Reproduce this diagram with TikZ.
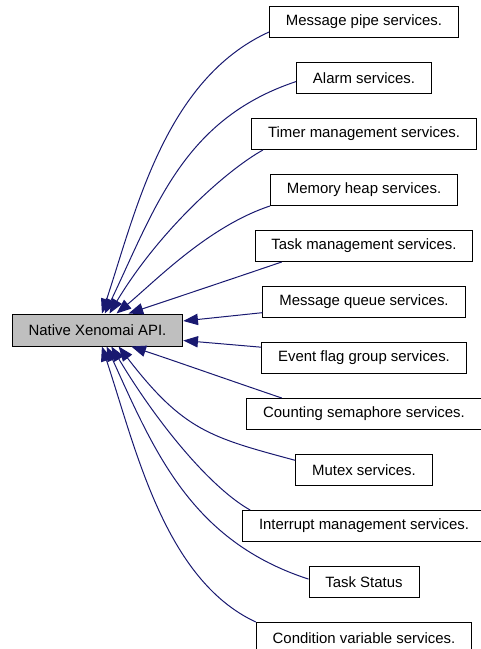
\documentclass[tikz,border=0pt]{standalone}
\usepackage{fontspec}
\setmainfont{Liberation Sans}
\usepackage{xcolor}
\usepackage{tikz}
\usetikzlibrary{arrows.meta}
\definecolor{edgeblue}{HTML}{191970}
\definecolor{apigray}{HTML}{BFBFBF}

\begin{document}
\begin{tikzpicture}[x=0.75pt, y=-0.75pt]
        \def\vert{56}
        \def\hori{364}
        \tikzstyle{module}=[rectangle, draw=black, line width=0.75pt, inner xsep=12.3pt, minimum height=23.25pt, font=\fontsize{11.2}{13}\selectfont]
        \tikzstyle{api}=[module, fill=apigray, minimum height=24pt]
        \tikzstyle{link}=[draw=edgeblue, line width=0.75pt, -{Triangle[length=11pt, width=8.5pt, fill=edgeblue]}]
        \useasboundingbox (0,0) rectangle (481,649);

        % Group
        \draw node at (97.5, 330) [api] (api) {Native Xenomai API.};

        % Modules
        \draw node at (\hori, 22 + 0*\vert) [module] (pipe) {Message pipe services.};
        \draw node at (\hori, 22 + 1*\vert) [module] (alarm) {Alarm services.};
        \draw node at (\hori, 22 + 2*\vert) [module] (timer) {Timer management services.};
        \draw node at (\hori, 22 + 3*\vert) [module] (heap) {Memory heap services.};
        \draw node at (\hori, 22 + 4*\vert) [module] (task) {Task management services.};
        \draw node at (\hori, 22 + 5*\vert) [module] (queue) {Message queue services.};
        \draw node at (\hori, 22 + 6*\vert) [module] (event) {Event flag group services.};
        \draw node at (\hori, 22 + 7*\vert) [module] (sem) {Counting semaphore services.};
        \draw node at (\hori, 22 + 8*\vert) [module] (mutex) {Mutex services.};
        \draw node at (\hori, 22 + 9*\vert) [module] (intr) {Interrupt management services.};
        \draw node at (\hori, 22 + 10*\vert) [module] (status) {Task Status};
        \draw node at (\hori, 22 + 11*\vert) [module] (cond) {Condition variable services.};

        % Modules -> Group (above)
        \draw [link] (pipe.186) .. controls +(-104.5,47.5) and +(33.6,-101) .. (api.75);
        \draw [link] (alarm.183) .. controls +(-113,37.6) and +(50.3,-105.6) .. (api.66);
        \draw [link] (timer.189) .. controls +(-36.5,20.3) and +(49.8,-83) .. (api.54);
        \draw [link] (heap.south west) .. controls +(-61.8,20.6) and +(39.1,-32.6) .. (api.41);
        \draw [link] (task.191) .. controls +(-50,17) and +(45,-15) .. (api.28);

        % Modules -> Group (side)
        \draw [link] (queue.186) -- (api.6);
        \draw [link] (event.174) -- (api.353);

        % Modules -> Group (below)
        \draw [link] (sem.169) .. controls +(-50,-17) and +(45,15) .. (api.334);
        \draw [link] (mutex.172) .. controls +(-84.8,-22.9) and +(64.8,84.2) .. (api.322);
        \draw [link] (intr.172) .. controls +(-36.5,-20.3) and +(49.8,83) .. (api.310);
        \draw [link] (status.177) .. controls +(-117,-38) and +(48,105.6) .. (api.299);
        \draw [link] (cond.north west) .. controls +(-91.5,-42.5) and +(33.6,101) .. (api.285);

\end{tikzpicture}
\end{document}
